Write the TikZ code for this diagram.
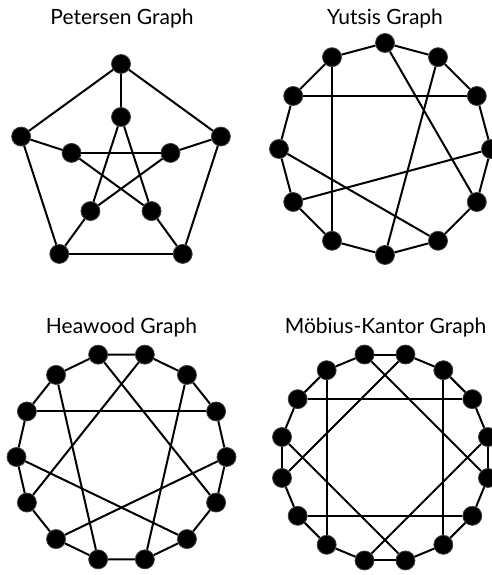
\documentclass[tikz,border=0pt]{standalone}
\usepackage{fontspec}
\setmainfont{Lato}
\usepackage{tikz}

\begin{document}
\begin{tikzpicture}[x=1pt, y=1pt,
    vertex/.style={circle, fill=black, draw=black!75, line width=0.8pt, minimum size=19pt, inner sep=0pt},
    edge/.style={line width=2pt},
    gtitle/.style={font=\fontsize{21}{25}\selectfont, anchor=base}]

    \useasboundingbox (0,0) rectangle (491,575);

    % Petersen Graph
    \node[gtitle] (petersen) at (122,550) {Petersen Graph};
    \begin{scope}[shift={(121,406)}]
        \foreach \i in {0,...,4} {
            \node[vertex] (po\i) at ({90-72*\i}:105) {};
            \node[vertex] (pi\i) at ({90-72*\i}:52) {};
        }
        \foreach \i in {0,...,4} {
            \pgfmathtruncatemacro\j{mod(\i+1,5)}
            \pgfmathtruncatemacro\k{mod(\i+2,5)}
            \draw[edge] (po\i) -- (po\j);
            \draw[edge] (po\i) -- (pi\i);
            \draw[edge] (pi\i) -- (pi\k);
        }
    \end{scope}

    % Yutsis Graph
    \node[gtitle] (yutsis) at (385,550) {Yutsis Graph};
    \begin{scope}[shift={(385,426)}]
        \foreach \i in {0,...,11} {
            \node[vertex] (y\i) at ({90-30*\i}:106) {};
        }
        \foreach \i in {0,...,11} {
            \pgfmathtruncatemacro\j{mod(\i+1,12)}
            \draw[edge] (y\i) -- (y\j);
        }
    \end{scope}
    \draw[edge] (y11) -- (y7);
    \draw[edge] (y10) -- (y2);
    \draw[edge] (y0) -- (y4);
    \draw[edge] (y1) -- (y6);
    \draw[edge] (y3) -- (y8);
    \draw[edge] (y9) -- (y5);

    % Heawood Graph
    \node[gtitle] (heawood) at (121.5,241) {Heawood Graph};
    \begin{scope}[shift={(121.5,118)}]
        \foreach \i in {0,...,13} {
            \node[vertex] (h\i) at ({90-(2*\i+1)*180/14}:105) {};
        }
        \foreach \i in {0,...,13} {
            \pgfmathtruncatemacro\j{mod(\i+1,14)}
            \draw[edge] (h\i) -- (h\j);
        }
    \end{scope}
    \draw[edge] (h13) -- (h4);
    \draw[edge] (h0) -- (h9);
    \draw[edge] (h12) -- (h7);
    \draw[edge] (h1) -- (h6);
    \draw[edge] (h11) -- (h2);
    \draw[edge] (h10) -- (h5);
    \draw[edge] (h3) -- (h8);

    % Moebius-Kantor Graph
    \node[gtitle] (moebius) at (385.5,241) {Möbius-Kantor Graph};
    \begin{scope}[shift={(385,117.5)}]
        \foreach \i in {0,...,15} {
            \node[vertex] (m\i) at ({90-(2*\i+1)*11.25}:105) {};
        }
        \foreach \i in {0,...,15} {
            \pgfmathtruncatemacro\j{mod(\i+1,16)}
            \draw[edge] (m\i) -- (m\j);
        }
    \end{scope}
    \draw[edge] (m15) -- (m4);
    \draw[edge] (m0) -- (m11);
    \draw[edge] (m14) -- (m9);
    \draw[edge] (m1) -- (m6);
    \draw[edge] (m13) -- (m2);
    \draw[edge] (m12) -- (m7);
    \draw[edge] (m3) -- (m8);
    \draw[edge] (m10) -- (m5);

\end{tikzpicture}
\end{document}
